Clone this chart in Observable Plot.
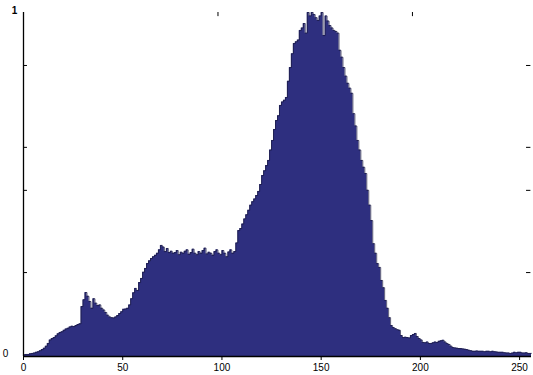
<!DOCTYPE html>
<html>
<head>
<meta charset="utf-8">
<script src="https://cdn.jsdelivr.net/npm/d3@7"></script>
<script src="https://cdn.jsdelivr.net/npm/@observablehq/plot@0.6"></script>
<style>
  html, body { margin: 0; padding: 0; background: #fff; }
  #chart svg { display: block; font-family: "Liberation Sans", Arial, sans-serif; }
</style>
</head>
<body>
<div id="chart"></div>
<script>
// Histogram counts (normalized, 256 bins)
const counts = [
  0.005,0.006,0.006,0.008,0.009,0.010,0.012,0.014,0.017,0.020,0.024,0.030,0.038,0.048,0.052,0.055,
  0.060,0.066,0.070,0.072,0.076,0.080,0.082,0.086,0.088,0.087,0.090,0.093,0.095,0.145,0.165,0.186,
  0.175,0.160,0.140,0.168,0.155,0.148,0.150,0.140,0.135,0.128,0.120,0.115,0.113,0.112,0.115,0.119,
  0.125,0.130,0.137,0.138,0.140,0.150,0.168,0.185,0.198,0.192,0.215,0.227,0.245,0.256,0.270,0.278,
  0.285,0.290,0.294,0.300,0.310,0.323,0.318,0.305,0.314,0.302,0.306,0.300,0.302,0.308,0.296,0.303,
  0.300,0.306,0.310,0.297,0.302,0.312,0.300,0.296,0.305,0.300,0.308,0.315,0.298,0.303,0.300,0.294,
  0.305,0.310,0.300,0.296,0.308,0.300,0.290,0.304,0.310,0.300,0.305,0.330,0.366,0.372,0.385,0.400,
  0.412,0.425,0.440,0.450,0.458,0.468,0.480,0.500,0.526,0.540,0.555,0.570,0.600,0.628,0.660,0.686,
  0.700,0.730,0.740,0.745,0.753,0.800,0.840,0.880,0.910,0.915,0.920,0.948,0.955,0.968,0.940,1.000,
  0.990,1.000,0.994,0.985,0.977,0.990,1.000,0.933,0.990,0.975,0.962,0.955,0.948,0.945,0.940,0.890,
  0.870,0.840,0.815,0.794,0.780,0.765,0.706,0.670,0.628,0.600,0.570,0.550,0.532,0.483,0.440,0.395,
  0.328,0.300,0.270,0.259,0.221,0.200,0.163,0.140,0.113,0.090,0.084,0.081,0.078,0.076,0.061,0.055,
  0.056,0.055,0.054,0.061,0.064,0.067,0.058,0.052,0.048,0.041,0.040,0.042,0.038,0.038,0.040,0.042,
  0.041,0.044,0.046,0.047,0.042,0.038,0.035,0.030,0.026,0.025,0.024,0.023,0.023,0.022,0.021,0.020,
  0.018,0.017,0.015,0.015,0.016,0.015,0.015,0.015,0.014,0.015,0.015,0.014,0.015,0.014,0.013,0.012,
  0.012,0.012,0.011,0.010,0.010,0.009,0.010,0.012,0.011,0.012,0.012,0.010,0.010,0.011,0.009,0.009
];
const xTicks = [0, 50, 100, 150, 200, 250];
const topTicks = [98, 196];
const yMinorTicks = [0.244, 0.483, 0.608, 0.846];
const yTickLabels = [{v: 1, t: "1"}, {v: 0, t: "0"}];

const stepPts = counts.map((c, i) => ({x: i, y: c})).concat([{x: 256, y: counts[255]}]);

const chart = Plot.plot({
  width: 533,
  height: 375,
  marginLeft: 23,
  marginRight: 2,
  marginTop: 12,
  marginBottom: 19,
  style: {fontSize: "10px", fontFamily: "Liberation Sans, Arial, sans-serif", color: "#000"},
  x: {domain: [0, 256]},
  y: {domain: [0, 1]},
  marks: [
    Plot.areaY(stepPts, {x: "x", y: "y", curve: "step-after", fill: "#2e2f7f"}),
    Plot.line(stepPts, {x: "x", y: "y", curve: "step-after", stroke: "#1a1a40", strokeWidth: 0.7}),
    Plot.ruleY([0], {stroke: "#000", strokeWidth: 1.3}),
    Plot.ruleX([0], {y1: 0, y2: 1, stroke: "#000", strokeWidth: 1.3}),
    Plot.ruleY(yMinorTicks, {x1: 0, x2: 2, stroke: "#000"}),
    Plot.ruleY(yMinorTicks, {x1: 253.5, x2: 255.7, stroke: "#000"}),
    Plot.ruleX(topTicks, {y1: 0.988, y2: 1.0, stroke: "#000"}),
    Plot.axisX(xTicks, {tickSize: 4, tickPadding: 3, label: null, fontSize: 10, fill: "#000"}),
    Plot.axisY({ticks: [], label: null}),
    Plot.text(yTickLabels, {x: 0, y: "v", text: "t", fontSize: 10, fontWeight: "bold", textAnchor: "middle", fill: "#000",
      filter: (d) => d.v === 1, dx: -9, dy: -2}),
    Plot.text(yTickLabels, {x: 0, y: "v", text: "t", fontSize: 10, textAnchor: "middle", fill: "#000",
      filter: (d) => d.v === 0, dx: -18, dy: -3})
  ]
});
document.getElementById("chart").appendChild(chart);
</script>
</body>
</html>
